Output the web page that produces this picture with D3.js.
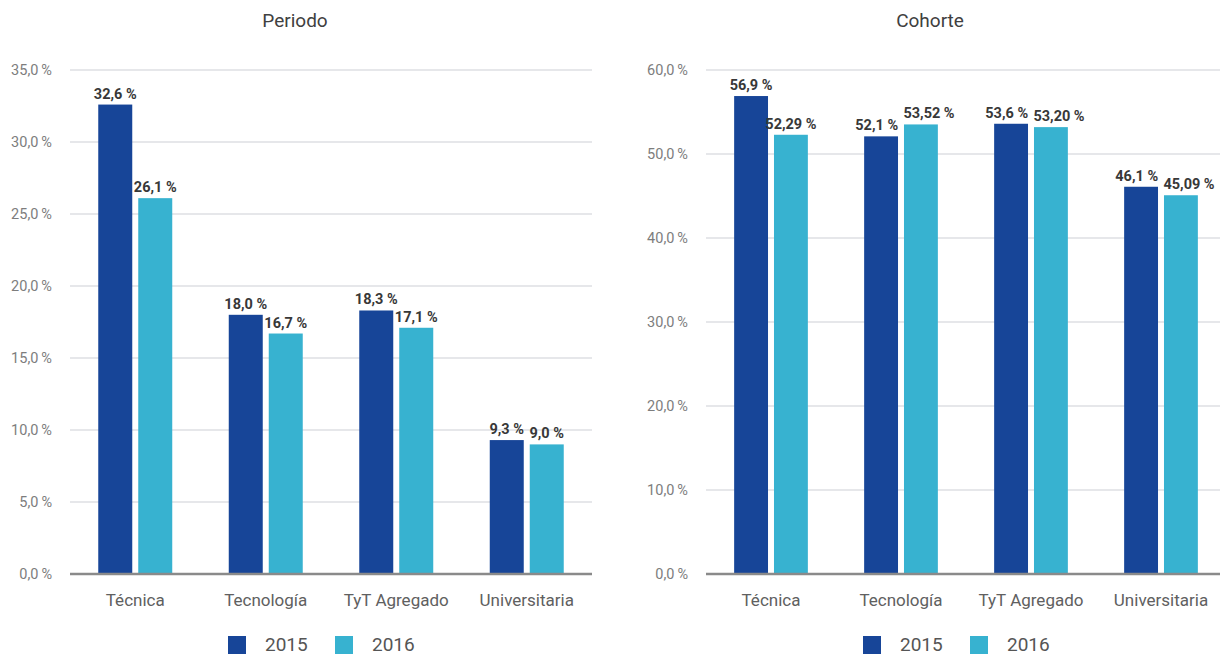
<!DOCTYPE html>
<html>
<head>
<meta charset="utf-8">
<script src="https://cdn.jsdelivr.net/npm/d3@7"></script>
<style>
  html, body { margin: 0; padding: 0; background: #fff; }
  svg { display: block; font-family: Roboto, "Noto Sans", sans-serif; }
</style>
</head>
<body>
<svg id="chart" width="1220" height="656"></svg>
<script>
// Categories and series
const categories = ["Técnica", "Tecnología", "TyT Agregado", "Universitaria"];
const years = ["2015", "2016"];

const periodo2015 = [32.6, 18.0, 18.3, 9.3];
const periodo2016 = [26.1, 16.7, 17.1, 9.0];

const cohorte2015 = [56.9, 52.1, 53.6, 46.1];
const cohorte2016 = [52.29, 53.52, 53.20, 45.09];

const periodoTicks = [0, 5, 10, 15, 20, 25, 30, 35];
const cohorteTicks = [0, 10, 20, 30, 40, 50, 60];

const colors = { "2015": "#174598", "2016": "#37b2d0" };

const svg = d3.select("#chart");

const comma = s => s.replace(".", ",");
const tickFmt = v => comma(d3.format(".1f")(v)) + "\u2009%";

function drawPanel(opts) {
  const { title, titleX, x0, x1, yMax, ticks, series, decimals, legendX } = opts;
  const top = 70, bottom = 574;
  const g = svg.append("g");

  const y = d3.scaleLinear().domain([0, yMax]).range([bottom, top]);
  const xCat = d3.scaleBand().domain(categories).range([x0, x1])
    .paddingInner(0.433).paddingOuter(0.2165);
  const xYear = d3.scaleBand().domain(years).range([0, xCat.bandwidth()])
    .paddingInner(0.15);

  // title
  g.append("text").attr("x", titleX).attr("y", 27)
    .attr("text-anchor", "middle").attr("font-size", 19)
    .attr("fill", "#404040").text(title);

  // gridlines
  g.selectAll(".grid").data(ticks.filter(t => t > 0)).join("line")
    .attr("x1", x0).attr("x2", x1)
    .attr("y1", d => y(d)).attr("y2", d => y(d))
    .attr("stroke", "#dedfe3").attr("stroke-width", 1.5);

  // y tick labels
  g.selectAll(".ytick").data(ticks).join("text")
    .attr("x", x0 - 18).attr("y", d => y(d)).attr("dy", "0.35em")
    .attr("text-anchor", "end").attr("font-size", 14.5)
    .attr("fill", "#7d7d7d").text(tickFmt);

  // bars and value labels
  const labelSets = [];
  series.forEach((vals, si) => {
    const yr = years[si];
    const fmt = v => comma(d3.format("." + decimals[si] + "f")(v)) + " %";
    const grp = g.append("g");
    grp.selectAll("rect").data(vals).join("rect")
      .attr("x", (d, i) => xCat(categories[i]) + xYear(yr))
      .attr("y", d => y(d))
      .attr("width", xYear.bandwidth())
      .attr("height", d => y(0) - y(d))
      .attr("fill", colors[yr]);
    labelSets.push(grp.selectAll("text").data(vals).join("text")
      .attr("x", (d, i) => xCat(categories[i]) + xYear(yr) + xYear.bandwidth() / 2)
      .attr("y", d => y(d) - 6)
      .attr("text-anchor", "middle").attr("font-size", 14.5)
      .attr("font-weight", "bold").attr("fill", "#383838")
      .text(fmt));
  });

  // push apart value labels of the same category when they collide
  const a = labelSets[0].nodes(), b = labelSets[1].nodes();
  categories.forEach((c, i) => {
    const ba = a[i].getBBox(), bb = b[i].getBBox();
    const vertical = ba.y < bb.y + bb.height && bb.y < ba.y + ba.height;
    const over = ba.x + ba.width + 5 - bb.x;
    if (vertical && over > 0) {
      d3.select(a[i]).attr("x", +a[i].getAttribute("x") - over * 0.35);
      d3.select(b[i]).attr("x", +b[i].getAttribute("x") + over * 0.65);
    }
  });

  // baseline
  g.append("line").attr("x1", x0).attr("x2", x1)
    .attr("y1", y(0)).attr("y2", y(0))
    .attr("stroke", "#8a8a8a").attr("stroke-width", 2.5);

  // category labels
  g.selectAll(".cat").data(categories).join("text")
    .attr("x", d => xCat(d) + xCat.bandwidth() / 2).attr("y", 606)
    .attr("text-anchor", "middle").attr("font-size", 17)
    .attr("fill", "#606060").text(d => d);

  // legend
  const lg = g.append("g").attr("transform", `translate(${legendX},0)`);
  years.forEach((yr, i) => {
    const off = i * 107;
    lg.append("rect").attr("x", off).attr("y", 636).attr("width", 18).attr("height", 18)
      .attr("fill", colors[yr]);
    lg.append("text").attr("x", off + 37).attr("y", 651)
      .attr("font-size", 19).attr("fill", "#555").text(yr);
  });
}

drawPanel({
  title: "Periodo", titleX: 295, x0: 70, x1: 592, yMax: 35, ticks: periodoTicks,
  series: [periodo2015, periodo2016], decimals: [1, 1], legendX: 228
});
drawPanel({
  title: "Cohorte", titleX: 930, x0: 706, x1: 1226, yMax: 60, ticks: cohorteTicks,
  series: [cohorte2015, cohorte2016], decimals: [1, 2], legendX: 863
});
</script>
</body>
</html>
